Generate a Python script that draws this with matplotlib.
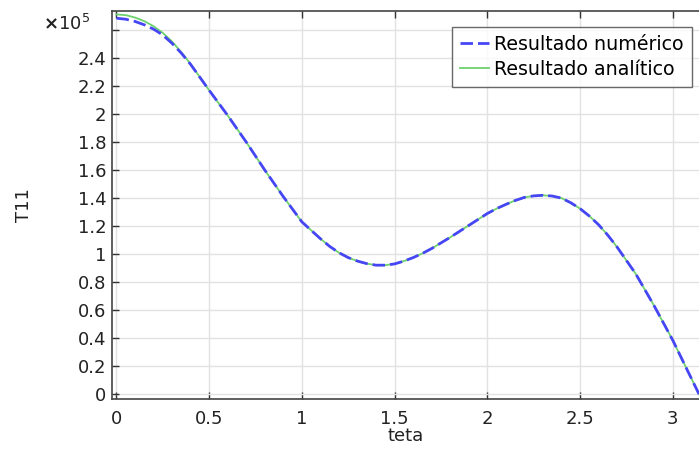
import numpy as np
import matplotlib
matplotlib.use("Agg")
import matplotlib.pyplot as plt

# Angle samples (rad) and stress T11 in units of 1e5
teta = [0.0, 0.05, 0.1, 0.15, 0.2, 0.25, 0.3, 0.35, 0.4, 0.5, 0.6, 0.7, 0.8,
        0.9, 1.0, 1.1, 1.15, 1.2, 1.25, 1.3, 1.35, 1.4, 1.45, 1.5, 1.55, 1.6,
        1.65, 1.7, 1.8, 1.9, 2.0, 2.05, 2.1, 2.15, 2.2, 2.25, 2.3, 2.35, 2.4,
        2.45, 2.5, 2.55, 2.6, 2.65, 2.7, 2.8, 2.9, 3.0, 3.1, np.pi]
t11_analitico = [2.712, 2.707, 2.69, 2.664, 2.628, 2.58, 2.518, 2.442, 2.357,
                 2.17, 1.99, 1.80, 1.60, 1.41, 1.23, 1.11, 1.055, 1.01, 0.975,
                 0.95, 0.932, 0.921, 0.921, 0.93, 0.95, 0.975, 1.005, 1.04,
                 1.12, 1.205, 1.29, 1.325, 1.355, 1.383, 1.405, 1.416, 1.42,
                 1.415, 1.40, 1.367, 1.325, 1.272, 1.21, 1.135, 1.05, 0.86,
                 0.63, 0.385, 0.113, 0.0]
t11_numerico = [2.685, 2.678, 2.662, 2.638, 2.607, 2.565, 2.505, 2.435, 2.355,
                2.17, 1.99, 1.80, 1.60, 1.41, 1.23, 1.11, 1.055, 1.01, 0.975,
                0.95, 0.932, 0.921, 0.921, 0.93, 0.95, 0.975, 1.005, 1.04,
                1.12, 1.205, 1.29, 1.325, 1.355, 1.383, 1.405, 1.416, 1.42,
                1.415, 1.40, 1.367, 1.325, 1.272, 1.21, 1.135, 1.05, 0.86,
                0.63, 0.385, 0.113, 0.0]

xticks = [0, 0.5, 1, 1.5, 2, 2.5, 3]
xticklabels = ["0", "0.5", "1", "1.5", "2", "2.5", "3"]
yticks = [0, 0.2, 0.4, 0.6, 0.8, 1.0, 1.2, 1.4, 1.6, 1.8, 2.0, 2.2, 2.4, 2.6]
yticklabels = ["0", "0.2", "0.4", "0.6", "0.8", "1", "1.2", "1.4", "1.6",
               "1.8", "2", "2.2", "2.4", ""]

plt.rcParams["font.family"] = ["DejaVu Sans"]
fs = 13
fig = plt.figure(figsize=(6.99, 4.5), dpi=100)
ax = fig.add_axes([0.160, 0.113, 0.840, 0.863])

ax.plot(teta, t11_analitico, color="#6dd16d", lw=1.3, label="Resultado analítico", zorder=3)
ax.plot(teta, t11_numerico, color="#4646f5", lw=2.0, dashes=(4.5, 1.8),
        label="Resultado numérico", zorder=4)

ax.set_xlim(-0.025, np.pi)
ax.set_ylim(-0.036, 2.738)
ax.set_xticks(xticks)
ax.set_xticklabels(xticklabels, fontsize=fs, color="#222222")
ax.set_yticks(yticks)
ax.set_yticklabels(yticklabels, fontsize=fs, color="#222222")
ax.tick_params(direction="in", length=5, width=1, color="#333333", top=True, right=False)
ax.tick_params(axis="x", pad=8)
ax.tick_params(axis="y", pad=4)
ax.grid(True, color="#e2e2e2", lw=1)
ax.set_axisbelow(True)
for s in ["left", "bottom", "top"]:
    ax.spines[s].set_color("#444444")
    ax.spines[s].set_linewidth(1.2)
ax.spines["right"].set_visible(False)

ax.set_xlabel("teta", fontsize=fs, labelpad=-1, color="#222222")
ax.set_ylabel("T11", fontsize=fs, labelpad=32, color="#222222")

fig.text(0.062, 0.946, r"$\mathbf{\times}$10$^5$", fontsize=fs, color="#222222",
         ha="left", va="center")

handles, labels = ax.get_legend_handles_labels()
leg = ax.legend(handles[::-1], labels[::-1], loc="upper right",
                bbox_to_anchor=(0.988, 0.958), fontsize=13.7, frameon=True,
                fancybox=False, shadow=False, handlelength=1.5,
                handletextpad=0.3, borderpad=0.42, labelspacing=0.3,
                borderaxespad=0)
leg.get_frame().set_edgecolor("#444444")
leg.get_frame().set_linewidth(1.0)

fig.savefig("out.png", dpi=100)
